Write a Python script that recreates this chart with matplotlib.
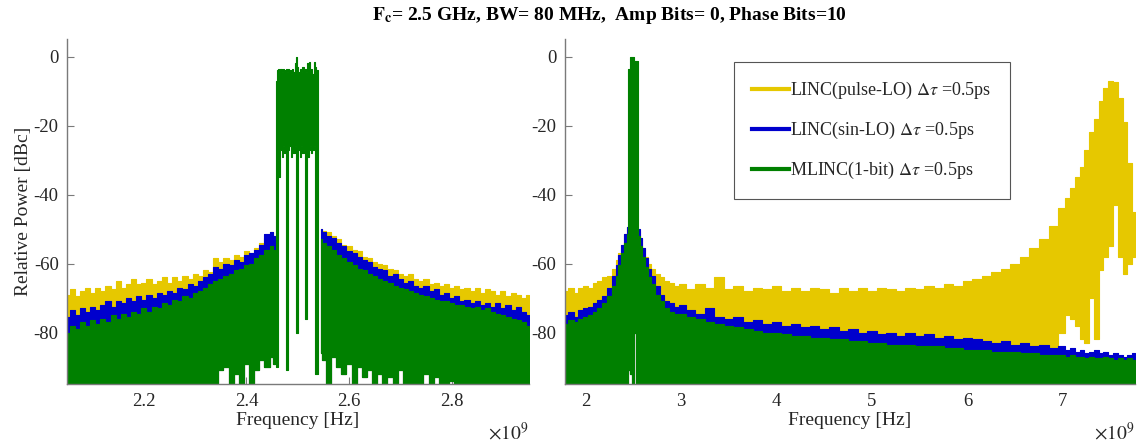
import numpy as np
import matplotlib
matplotlib.use('Agg')
import matplotlib.pyplot as plt
from matplotlib.lines import Line2D

plt.rcParams['font.family'] = ['Liberation Serif', 'DejaVu Serif']
plt.rcParams['mathtext.fontset'] = 'stix'

# ---------------- data (frequency in GHz, power in dBc) ----------------
series_labels = [r'LINC(pulse-LO) $\Delta\tau$ =0.5ps',
                 r'LINC(sin-LO) $\Delta\tau$ =0.5ps',
                 r'MLINC(1-bit) $\Delta\tau$ =0.5ps']
series_colors = ['#E6C800', '#0000CD', '#008000']

# Left panel: lower out-of-band region
L_f_lo = [2.05, 2.06, 2.07, 2.08, 2.09, 2.10, 2.11, 2.12, 2.13, 2.14, 2.15, 2.16, 2.17, 2.18,
          2.19, 2.20, 2.21, 2.22, 2.23, 2.24, 2.25, 2.26, 2.27, 2.28, 2.29, 2.30, 2.31, 2.32,
          2.33, 2.34, 2.35, 2.36, 2.37, 2.38, 2.39, 2.40, 2.41, 2.42, 2.43, 2.44, 2.45, 2.455]
L_yellow_lo = [-69, -67.5, -69.5, -68, -67, -68.5, -67, -68, -66.5, -67.5, -65, -67, -66, -64.5,
               -66, -65.5, -64.5, -66, -65, -64, -65.5, -64, -65, -63.5, -64.5, -63, -63.5, -62,
               -62.5, -58.5, -59.5, -58.5, -59, -57.5, -58, -56.5, -57, -55.5, -54, -52.5, -51, -52]
L_blue_lo = [-75.5, -73.5, -75, -73, -74, -72.5, -73.5, -72, -71, -72.5, -71, -71.5, -70, -71,
             -69.5, -70.5, -69, -70, -68.5, -69, -68, -68.5, -67, -67.5, -66, -66.5, -65, -64,
             -63, -61, -61.5, -60, -60.5, -59, -59.5, -57.5, -57, -56, -54.5, -51.5, -51, -52]
L_green_lo = [-80, -78, -79, -77, -78, -76.5, -77.5, -76, -77, -75, -76, -74.5, -75.5, -74,
              -74.5, -73, -74, -72.5, -73, -71.5, -72, -70.5, -71, -69.5, -70, -68.5, -68, -67,
              -66, -65, -64.5, -63.5, -63, -62, -61.5, -60.5, -60, -58.5, -57.5, -56, -55, -56]
L_floor_lo = [-96] * 29 + [-96, -91, -90, -96, -92, -96, -89, -96, -91, -88, -90, -87, -89]

# Left panel: upper out-of-band region
L_f_hi = [2.545, 2.55, 2.56, 2.57, 2.58, 2.59, 2.60, 2.61, 2.62, 2.63, 2.64, 2.65, 2.66, 2.67,
          2.68, 2.69, 2.70, 2.71, 2.72, 2.73, 2.74, 2.75, 2.76, 2.77, 2.78, 2.79, 2.80, 2.81,
          2.82, 2.83, 2.84, 2.85, 2.86, 2.87, 2.88, 2.89, 2.90, 2.91, 2.92, 2.93, 2.94, 2.95]
L_yellow_hi = [-50, -50.5, -51, -52, -53, -54.5, -55, -56, -56.5, -58, -58.5, -59.5, -60, -60.5,
               -61.5, -62, -63, -63.5, -63, -64.5, -65, -64.5, -66, -65.5, -66.5, -66, -67, -66.5,
               -67.5, -67, -68, -67, -68.5, -67.5, -68, -69, -68, -69.5, -68.5, -69, -70, -69]
L_blue_hi = [-50, -51, -52, -52.5, -54, -55, -56.5, -57, -58, -59, -59.5, -61, -61.5, -62,
             -63.5, -63, -64.5, -65.5, -65, -66.5, -67, -66.5, -68, -67.5, -69, -68.5, -70, -69.5,
             -71, -70.5, -71.5, -71, -72, -71.5, -72.5, -71.5, -73, -72, -73.5, -72.5, -74, -75]
L_green_hi = [-53, -54, -55, -56, -57.5, -58.5, -59.5, -60.5, -61.5, -62, -63, -63.5, -64.5, -65,
              -65.5, -66.5, -67, -67.5, -68, -68.5, -69, -69.5, -70, -70.5, -71, -71, -71.5, -72,
              -72, -72.5, -73, -72.5, -73.5, -73, -74, -74.5, -75, -75.5, -76, -76.5, -77, -78]
L_floor_hi = [-86, -88, -96, -87, -90, -92, -89, -96, -90, -93, -91, -96, -92, -96,
              -93, -96, -91, -96, -96, -96, -96, -92, -96, -93, -96, -96, -94] + [-96] * 15

# Left panel: in-band (MLINC / all signals overlap, green on top)
L_f_band = [2.4575, 2.46, 2.4625, 2.465, 2.4675, 2.47, 2.4725, 2.475, 2.4775, 2.48, 2.4825,
            2.485, 2.4875, 2.49, 2.4925, 2.495, 2.4975, 2.50, 2.5025, 2.505, 2.5075, 2.51,
            2.5125, 2.515, 2.5175, 2.52, 2.5225, 2.525, 2.5275, 2.53, 2.5325, 2.535, 2.5375, 2.54]
L_band_top = [-7, -4, -3.5, -4, -3.5, -4.5, -3.5, -4, -3.5, -4.5, -3.5, -4, -5, -3.5, -4.5, -2,
              0, -3, -4.5, -3.5, -4.5, -3, -4, -3.5, -4.5, -2, -1.7, -4, -3.5, -5, -1.5, -3,
              -4, -6]
L_band_bot = [-90, -90, -30, -35, -27, -29, -26, -28, -91, -91, -27, -26, -29, -27, -28, -26,
              -80, -80, -27, -29, -26, -28, -27, -76, -76, -29, -27, -26, -28, -27, -26, -92,
              -92, -30]

# Right panel (wide span)
R_f = [1.78, 1.85, 1.90, 1.95, 2.00, 2.05, 2.10, 2.15, 2.20, 2.25, 2.30, 2.33, 2.36, 2.39,
       2.42, 2.44, 2.46, 2.48, 2.50, 2.52, 2.54, 2.56, 2.58, 2.61, 2.64, 2.67, 2.70, 2.75,
       2.80, 2.85, 2.90, 2.95,
       3.0, 3.1, 3.2, 3.3, 3.4, 3.5, 3.6, 3.7, 3.8, 3.9, 4.0, 4.1, 4.2, 4.3, 4.4, 4.5, 4.6,
       4.7, 4.8, 4.9, 5.0, 5.1, 5.2, 5.3, 5.4, 5.5, 5.6, 5.7, 5.8, 5.9, 6.0, 6.1, 6.2, 6.3,
       6.4, 6.5, 6.6, 6.7, 6.8, 6.9,
       7.0, 7.05, 7.1, 7.15, 7.2, 7.25, 7.3, 7.35, 7.4, 7.45, 7.5, 7.55, 7.6, 7.65, 7.7, 7.75]
R_yellow = [-68, -67, -68.5, -67, -66.5, -67, -65.5, -65, -64, -63.5, -61.5, -59, -57, -54.5,
            -51.5, -49.5, -50, -50, -50, -50, -50, -50.5, -53, -55.5, -58, -60, -61.5, -63,
            -64, -65, -65.5, -66.5,
            -66, -67.5, -66, -67, -64, -67.5, -66.5, -68, -67, -67.5, -66.5, -68, -67, -68,
            -67, -67.5, -68.5, -67, -68, -67, -68, -67, -67.5, -68, -67, -67.5, -66.5, -67,
            -66, -66.5, -65, -64.5, -63.5, -62.5, -61.5, -60, -58, -55.5, -53, -49,
            -44, -41, -38, -35, -32, -27, -22, -18, -13, -9, -7, -7.5, -12, -19, -31, -45]
R_blue = [-75, -74, -75.5, -73.5, -73, -72.5, -71.5, -70.5, -69.5, -67, -63.5, -60.5, -57.5,
          -54.5, -51.5, -49.5, -50, -50, -50, -50, -50, -50, -52.5, -55.5, -58.5, -61.5,
          -63.5, -66.5, -69, -71, -71.5, -72.5,
          -72, -73.5, -74.5, -73, -75.5, -76, -75.5, -77, -76.5, -77.5, -77, -78, -77.5,
          -78.5, -78, -79, -78.5, -79.5, -79, -80, -79.5, -80.5, -80, -81, -80, -81, -80.5,
          -81.5, -81, -82, -81.5, -82, -82.5, -83, -82.5, -83.5, -83, -84, -83.5, -84.5,
          -84, -85, -84.5, -85.5, -85, -86, -85.5, -85, -86, -85.5, -86.5, -86, -86.5, -87,
          -86.5, -86]
R_green = [-77.5, -76.5, -77, -76, -75.5, -75, -74, -73, -71.5, -69.5, -66.5, -63.5, -60.5,
           -57, -54, -51.5, -3.5, 0, 0, -1.3, -1.3, -52, -55, -58, -61, -64, -66, -69, -71,
           -73, -74, -74.5,
           -74.5, -75.5, -76, -77, -77.5, -78, -78.5, -79, -79.5, -80, -80, -80.5, -81, -81,
           -81.5, -81.5, -82, -82, -82.5, -82.5, -83, -83, -83.5, -83.5, -83.5, -84, -84, -84,
           -84.5, -84.5, -85, -85, -85, -85.5, -85.5, -85.5, -86, -86, -86.5, -86.5,
           -86.5, -87, -86.5, -87, -87, -87.5, -87, -87.5, -87.5, -87, -87.5, -88, -87.5, -88,
           -87.5, -88]
R_floor = [-96] * 16 + [-91, -92, -96, -80, -96] + [-96] * 51 + [-96] * 16
R_yellow_floor = [-96] * 16 + [-91, -92, -96, -80, -96] + [-96] * 51 + \
                 [-80, -75, -76, -78, -82, -83, -70, -82, -62, -58, -55, -43, -58, -63, -60, -58]

L_xticks = [2.2, 2.4, 2.6, 2.8]
R_xticks = [2, 3, 4, 5, 6, 7]
yticks = [0, -20, -40, -60, -80]

# ---------------- figure ----------------
fig = plt.figure(figsize=(11.44, 4.44), dpi=100)
axL = fig.add_axes([67 / 1144, 1 - 384.3 / 444, (528.5 - 67) / 1144, 345 / 444])
axR = fig.add_axes([564.5 / 1144, 1 - 384.3 / 444, (1134.5 - 564.5) / 1144, 345 / 444])

AXC = '#7a7a7a'
TXT = '#262626'


def band(ax, f, top, bot, color, z):
    ax.fill_between(f, bot, top, step='mid', color=color, lw=0.8, edgecolor=color, zorder=z)


# left panel
for (top_lo, top_hi, c, z) in [(L_yellow_lo, L_yellow_hi, series_colors[0], 1),
                               (L_blue_lo, L_blue_hi, series_colors[1], 2),
                               (L_green_lo, L_green_hi, series_colors[2], 3)]:
    band(axL, L_f_lo, top_lo, L_floor_lo, c, z)
    band(axL, L_f_hi, top_hi, L_floor_hi, c, z)
band(axL, L_f_band, L_band_top, L_band_bot, series_colors[2], 3)

# right panel
band(axR, R_f, R_yellow, R_yellow_floor, series_colors[0], 1)
band(axR, R_f, R_blue, R_floor, series_colors[1], 2)
band(axR, R_f, R_green, R_floor, series_colors[2], 3)

axL.set_xlim(2.05, 2.95)
axR.set_xlim(1.78, 7.75)
for ax, xt in [(axL, L_xticks), (axR, R_xticks)]:
    ax.set_ylim(-95, 5)
    ax.set_yticks(yticks)
    ax.set_yticklabels([str(v) for v in yticks])
    ax.set_xticks(xt)
    ax.set_xticklabels([str(v) for v in xt])
    for s in ['top', 'right']:
        ax.spines[s].set_visible(False)
    for s in ['left', 'bottom']:
        ax.spines[s].set_color(AXC)
        ax.spines[s].set_linewidth(1.0)
        ax.spines[s].set_zorder(5)
    ax.tick_params(direction='in', length=5, width=0.8, color=AXC, labelcolor=TXT,
                   labelsize=13.5, pad=6)
    ax.set_xlabel('Frequency [Hz]', fontsize=14, color=TXT, labelpad=2)
    ax.text(1.0, -0.14, r'$\times10^{9}$', transform=ax.transAxes, ha='right', va='center',
            fontsize=14, color=TXT)

axL.set_ylabel('Relative Power [dBc]', fontsize=14, color=TXT, labelpad=1)

handles = [Line2D([0], [0], color=c, lw=3) for c in series_colors]
leg = axR.legend(handles, series_labels, loc='upper left', bbox_to_anchor=(0.298, 0.935),
                 fontsize=13, frameon=True, fancybox=False, framealpha=1,
                 edgecolor='#555555', handlelength=2.0, handletextpad=0.1,
                 labelspacing=1.05, borderpad=1.0, borderaxespad=0)
leg.get_frame().set_linewidth(0.8)
for t in leg.get_texts():
    t.set_color(TXT)

fig.text(609 / 1144, 1 - 15 / 444,
         r'$\mathbf{F_c}$= 2.5 GHz, BW= 80 MHz,  Amp Bits= 0, Phase Bits=10',
         ha='center', va='center', fontsize=14, fontweight='bold', color='black')

fig.savefig('out.png', dpi=100)
